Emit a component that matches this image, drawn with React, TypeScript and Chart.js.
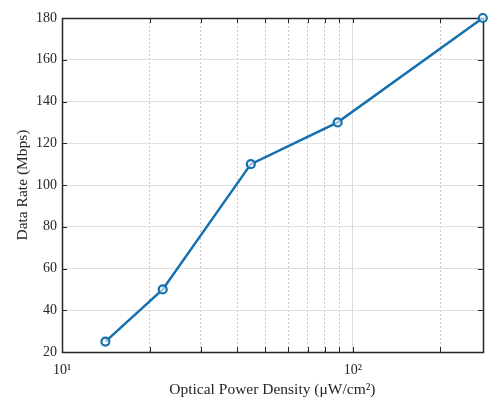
import { useEffect, useRef } from 'react';
import { Chart, registerables } from 'chart.js';
Chart.register(...registerables);

const powerDensity = [14.1, 22.2, 44.6, 88.7, 280];
const dataRate = [25, 50, 110, 130, 180];
const xGridValues = [10, 20, 30, 40, 50, 60, 70, 80, 90, 100, 200];
const xTickLabels: Record<number, string> = { 10: '10¹', 100: '10²' };
const xMin = 10;
const xMax = 280;
const yMin = 20;
const yMax = 180;
const yStep = 20;
const xTitle = 'Optical Power Density (μW/cm²)';
const yTitle = 'Data Rate (Mbps)';

const FONT = "'Liberation Serif', 'Times New Roman', serif";
const AXIS = '#262626';

const boxPlugin = {
  id: 'boxPlugin',
  beforeDatasetsDraw(chart: any) {
    const { ctx, chartArea } = chart;
    const { left, right, top, bottom } = chartArea;
    const xs = chart.scales.x;
    const ys = chart.scales.y;
    ctx.save();
    ctx.strokeStyle = AXIS;
    ctx.lineWidth = 1;
    ctx.beginPath();
    const tl = 5;
    for (const v of xGridValues) {
      const px = Math.round(xs.getPixelForValue(v)) + 0.5;
      ctx.moveTo(px, bottom);
      ctx.lineTo(px, bottom - tl);
      ctx.moveTo(px, top);
      ctx.lineTo(px, top + tl);
    }
    for (let v = yMin; v <= yMax; v += yStep) {
      const py = Math.round(ys.getPixelForValue(v)) + 0.5;
      ctx.moveTo(left, py);
      ctx.lineTo(left + tl, py);
      ctx.moveTo(right, py);
      ctx.lineTo(right - tl, py);
    }
    ctx.stroke();
    ctx.lineWidth = 1.5;
    ctx.strokeRect(Math.round(left) + 0.5, Math.round(top) + 0.5, Math.round(right - left), Math.round(bottom - top));
    ctx.restore();
  },
};

export default function App() {
  const ref = useRef<HTMLCanvasElement | null>(null);
  useEffect(() => {
    if (!ref.current) return;
    const chart = new Chart(ref.current, {
      type: 'line',
      data: {
        datasets: [
          {
            data: powerDensity.map((x, i) => ({ x, y: dataRate[i] })),
            borderColor: '#1570b0',
            borderWidth: 2.5,
            pointRadius: 4,
            pointBorderWidth: 2.2,
            pointBackgroundColor: 'rgba(255,255,255,0.6)',
            pointBorderColor: '#1570b0',
            clip: false as any,
            tension: 0,
          },
        ],
      },
      options: {
        animation: false,
        responsive: true,
        maintainAspectRatio: false,
        layout: { padding: { top: 18, right: 5, left: 0, bottom: 0 } },
        plugins: { legend: { display: false }, tooltip: { enabled: false } },
        scales: {
          x: {
            type: 'logarithmic',
            min: xMin,
            max: xMax,
            afterBuildTicks: (scale: any) => {
              scale.ticks = xGridValues.map((v) => ({ value: v }));
            },
            afterFit: (scale: any) => {
              scale.height = 47;
            },
            ticks: {
              autoSkip: false,
              maxRotation: 0,
              padding: 10,
              color: AXIS,
              font: { family: FONT, size: 14 },
              callback: (v: any) => xTickLabels[Number(v)] ?? '',
            },
            grid: {
              drawTicks: false,
              color: (c: any) => (c.tick && c.tick.value === 100 ? '#dcdcdc' : '#c8c8c8'),
              lineWidth: 1,
            },
            border: {
              display: false,
              dash: (c: any) => (c.tick && c.tick.value === 100 ? [] : [2, 2]),
            } as any,
            title: {
              display: true,
              text: xTitle,
              color: AXIS,
              font: { family: FONT, size: 15.5 },
              padding: { top: 0, bottom: 0 },
            },
          },
          y: {
            type: 'linear',
            min: yMin,
            max: yMax,
            afterFit: (scale: any) => {
              scale.width = 62;
            },
            ticks: {
              stepSize: yStep,
              padding: 5,
              color: AXIS,
              font: { family: FONT, size: 14 },
            },
            grid: {
              drawTicks: false,
              color: '#e0e0e0',
              lineWidth: 1,
            },
            border: { display: false },
            title: {
              display: true,
              text: yTitle,
              color: AXIS,
              font: { family: FONT, size: 15.5 },
              padding: { top: 14, bottom: 0 },
            },
          },
        },
      },
      plugins: [boxPlugin],
    });
    return () => chart.destroy();
  }, []);
  return (
    <div style={{ position: 'fixed', left: 0, top: 0, width: 489, height: 399, background: '#fff' }}>
      <canvas ref={ref} />
    </div>
  );
}
